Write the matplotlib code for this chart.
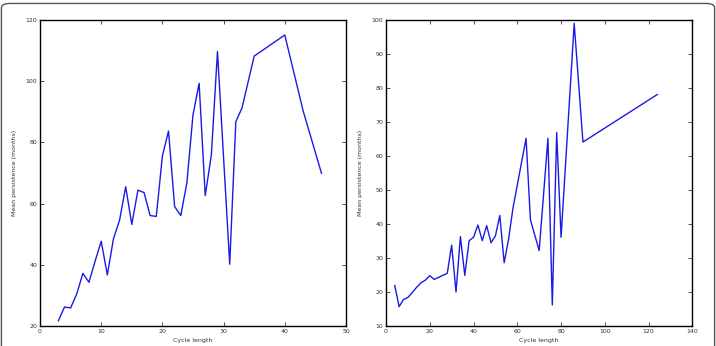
import matplotlib
matplotlib.use('Agg')
import matplotlib.pyplot as plt
from matplotlib.patches import FancyBboxPatch

# left panel
cycle_a = [3, 4, 5, 6, 7, 8, 9, 10, 11, 12, 13, 14, 15, 16, 17, 18, 19, 20,
           21, 22, 23, 24, 25, 26, 27, 28, 29, 31, 32, 33, 35, 40, 43, 46]
persist_a = [21.7, 26.2, 25.9, 30.5, 37.2, 34.3, 41.2, 47.7, 36.7, 48.5, 54.6,
             65.5, 53.2, 64.4, 63.6, 56.1, 55.8, 75.6, 83.7, 59.0, 56.1, 66.8,
             89.0, 99.3, 62.6, 75.9, 109.7, 40.2, 86.8, 91.2, 108.2, 115.1,
             90.3, 69.9]

# right panel
cycle_b = [4, 6, 8, 10, 12, 14, 16, 18, 20, 22, 24, 26, 28, 30, 32, 34, 36, 38,
           40, 42, 44, 46, 48, 50, 52, 54, 56, 58, 64, 66, 70, 74, 76, 78, 80,
           86, 90, 124]
persist_b = [21.9, 15.7, 17.8, 18.4, 19.8, 21.4, 22.7, 23.5, 24.8, 23.7, 24.3,
             24.9, 25.5, 33.8, 20.0, 36.3, 24.9, 35.1, 36.1, 39.7, 35.1, 39.5,
             34.5, 36.5, 42.5, 28.6, 35.5, 44.6, 65.2, 41.2, 32.2, 65.2, 16.2,
             66.9, 36.1, 99.0, 64.1, 78.1]

fig = plt.figure(figsize=(7.16, 3.46), dpi=100)

# rounded frame round the figure
frame = FancyBboxPatch((0.002, -0.05), 0.996, 1.04,
                       boxstyle='round,pad=0,rounding_size=0.012',
                       transform=fig.transFigure, fill=False,
                       edgecolor='#555555', linewidth=1.0)
fig.patches.append(frame)

ax1 = fig.add_axes([0.0559, 0.0578, 0.4273, 0.8844])
ax2 = fig.add_axes([0.5391, 0.0578, 0.4279, 0.8844])

for ax, x, y, xlim, ylim, yticks, xticks in [
        (ax1, cycle_a, persist_a, (0, 50), (20, 120), range(20, 121, 20), range(0, 51, 10)),
        (ax2, cycle_b, persist_b, (0, 140), (10, 100), range(10, 101, 10), range(0, 141, 20))]:
    ax.plot(x, y, color='#1a1ae6', linewidth=1.0)
    ax.set_xlim(*xlim)
    ax.set_ylim(*ylim)
    ax.set_xticks(list(xticks))
    ax.set_yticks(list(yticks))
    ax.tick_params(direction='in', top=True, right=True, labelsize=4.5,
                   length=3, width=0.6, pad=2, colors='#333333')
    for s in ax.spines.values():
        s.set_linewidth(1.0)
    ax.set_xlabel('Cycle length', fontsize=4.5, color='#333333', labelpad=3)
    ax.set_ylabel('Mean persistence (months)', fontsize=4.5, color='#333333', labelpad=6)

fig.savefig('out.png', dpi=100)
